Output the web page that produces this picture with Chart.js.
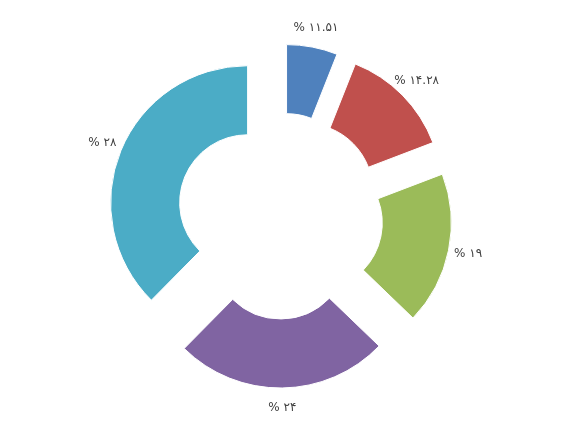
<!DOCTYPE html>
<html>
<head>
<meta charset="utf-8">
<script src="https://cdn.jsdelivr.net/npm/chart.js@4"></script>
<style>
html,body{margin:0;padding:0;background:#fff;}
#wrap{width:565px;height:425px;}
</style>
</head>
<body>
<div id="wrap"><canvas id="c" width="565" height="425"></canvas></div>
<script>
// Slice sizes
const categories = ['A', 'B', 'C', 'D', 'E'];
const values = [6, 13.2, 18, 25.2, 37.6];
// Label texts as printed on the chart (Persian digits)
const labelTexts = ['۱۱.۵۱', '۱۴.۲۸', '۱۹', '۲۴', '۲۸'];
const colors = ['#4F81BD', '#C0504D', '#9BBB59', '#8064A2', '#4BACC6'];

const EXPLODE = 35;

// Pull every slice outward along its mid angle (Excel-style exploded doughnut)
const explodePlugin = {
  id: 'explode',
  beforeDatasetsDraw(chart) {
    const meta = chart.getDatasetMeta(0);
    meta.data.forEach(arc => {
      if (arc._exploded) return;
      arc._exploded = true;
      const orig = arc.draw.bind(arc);
      arc.draw = function (ctx) {
        const mid = (this.startAngle + this.endAngle) / 2;
        ctx.save();
        ctx.translate(Math.cos(mid) * EXPLODE, Math.sin(mid) * EXPLODE);
        orig(ctx);
        ctx.restore();
      };
    });
  }
};

const labelPlugin = {
  id: 'sliceLabels',
  afterDatasetsDraw(chart) {
    const ctx = chart.ctx;
    const meta = chart.getDatasetMeta(0);
    ctx.save();
    ctx.font = '12px "DejaVu Sans", sans-serif';
    ctx.fillStyle = '#404040';
    ctx.textAlign = 'center';
    ctx.textBaseline = 'middle';
    meta.data.forEach((arc, i) => {
      const p = arc.getProps(['x', 'y', 'startAngle', 'endAngle', 'outerRadius'], true);
      const mid = (p.startAngle + p.endAngle) / 2;
      const r = p.outerRadius + EXPLODE + 20;
      const lx = p.x + Math.cos(mid) * r;
      const ly = p.y + Math.sin(mid) * r;
      ctx.fillText('% ' + labelTexts[i], lx, ly);
    });
    ctx.restore();
  }
};

new Chart(document.getElementById('c'), {
  type: 'doughnut',
  data: {
    labels: categories,
    datasets: [{
      data: values,
      backgroundColor: colors,
      borderColor: '#ffffff',
      borderWidth: 1
    }]
  },
  options: {
    responsive: false,
    animation: false,
    radius: 137,
    cutout: '49.6%',
    layout: { padding: { left: 0, right: 5, top: 7, bottom: 0 } },
    plugins: {
      legend: { display: false },
      tooltip: { enabled: false }
    }
  },
  plugins: [explodePlugin, labelPlugin]
});
</script>
</body>
</html>
